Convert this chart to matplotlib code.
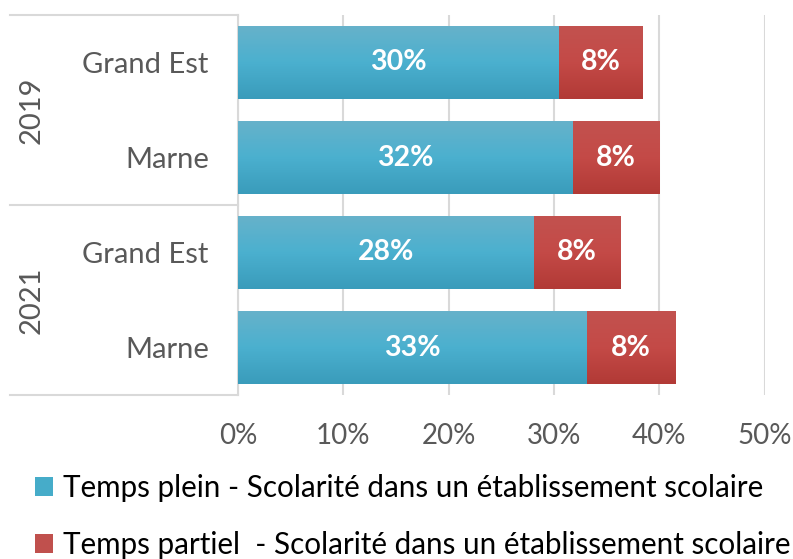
import matplotlib
matplotlib.use("Agg")
import matplotlib.pyplot as plt
import numpy as np
from matplotlib.colors import LinearSegmentedColormap
from matplotlib.patches import Patch
import matplotlib.transforms as mtransforms

plt.rcParams['font.family'] = ['Lato', 'DejaVu Sans']

years = ["2019", "2021"]
regions = ["Grand Est", "Marne", "Grand Est", "Marne"]
temps_plein = [30.5, 31.8, 28.1, 33.1]
temps_partiel = [7.9, 8.2, 8.2, 8.4]
labels_plein = ["30%", "32%", "28%", "33%"]
labels_partiel = ["8%", "8%", "8%", "8%"]
xticks = [0, 10, 20, 30, 40, 50]
xtick_labels = ["0%", "10%", "20%", "30%", "40%", "50%"]
series_names = ["Temps plein - Scolarité dans un établissement scolaire",
                "Temps partiel  - Scolarité dans un établissement scolaire"]

blue_grad = ["#67b2ca", "#4bb0cf", "#3a9cbb"]
red_grad = ["#c2524f", "#c44a47", "#b23a36"]
blue_mid = "#46acc9"
red_mid = "#c0504d"
grid_col = "#d9d9d9"
text_col = "#595959"

fig = plt.figure(figsize=(7.93, 5.59), dpi=100)
ax = fig.add_axes([238 / 793, 1 - 395 / 559, (764.5 - 238) / 793, (395 - 15) / 559])

y = np.arange(len(regions))
h = 0.77
bars1 = ax.barh(y, temps_plein, height=h, color=blue_mid, zorder=2)
bars2 = ax.barh(y, temps_partiel, left=temps_plein, height=h, color=red_mid, zorder=2)

cmap_b = LinearSegmentedColormap.from_list("b", blue_grad)
cmap_r = LinearSegmentedColormap.from_list("r", red_grad)
grad = np.linspace(0, 1, 64).reshape(-1, 1)
for bars, cmap in ((bars1, cmap_b), (bars2, cmap_r)):
    for p in bars:
        x0, yb = p.get_x(), p.get_y()
        w, hh = p.get_width(), p.get_height()
        im = ax.imshow(grad, cmap=cmap, aspect='auto',
                       extent=(x0, x0 + w, yb + hh, yb), origin='upper', zorder=3)
        im.set_clip_path(p)

for i in range(len(regions)):
    ax.text(temps_plein[i] / 2, y[i], labels_plein[i], ha='center', va='center',
            color='white', fontsize=20.5, fontweight='bold', zorder=4)
    ax.text(temps_plein[i] + temps_partiel[i] / 2, y[i], labels_partiel[i], ha='center',
            va='center', color='white', fontsize=20.5, fontweight='bold', zorder=4)

ax.set_xlim(0, 50)
ax.set_ylim(len(regions) - 0.5, -0.5)
ax.set_xticks(xticks)
ax.set_xticklabels(xtick_labels)
ax.set_yticks(y)
ax.set_yticklabels(regions)
ax.tick_params(axis='both', length=0, colors=text_col)
ax.tick_params(axis='x', pad=20.5, labelsize=20)
ax.tick_params(axis='y', pad=21, labelsize=21)
ax.xaxis.grid(True, color=grid_col, linewidth=1.5, zorder=0)
ax.set_axisbelow(True)
for s in ['top', 'right', 'bottom']:
    ax.spines[s].set_visible(False)
ax.spines['left'].set_color(grid_col)
ax.spines['left'].set_linewidth(1.5)

# group separators and year labels
trans = mtransforms.blended_transform_factory(ax.transAxes, ax.transData)
x_left = (10 - 238) / (764.5 - 238)
for yy in [-0.5, 1.5, 3.5]:
    ax.plot([x_left, 0], [yy, yy], transform=trans, color=grid_col, linewidth=1.5,
            clip_on=False, zorder=1)
x_year = (32 - 238) / (764.5 - 238)
for g, yr in enumerate(years):
    ax.text(x_year, 2 * g + 0.5, yr, transform=trans, rotation=90, ha='center',
            va='center', fontsize=21, color=text_col)

handles = [Patch(facecolor=blue_mid), Patch(facecolor=red_mid)]
fig.legend(handles, series_names, loc='upper left',
           bbox_to_anchor=(35 / 793, 1 - 474 / 559), frameon=False, fontsize=21.3,
           handlelength=0.61, handleheight=0.64, handletextpad=0.34,
           labelspacing=0.98, borderpad=0, borderaxespad=0, labelcolor='black')

fig.savefig("out.png", dpi=100)
